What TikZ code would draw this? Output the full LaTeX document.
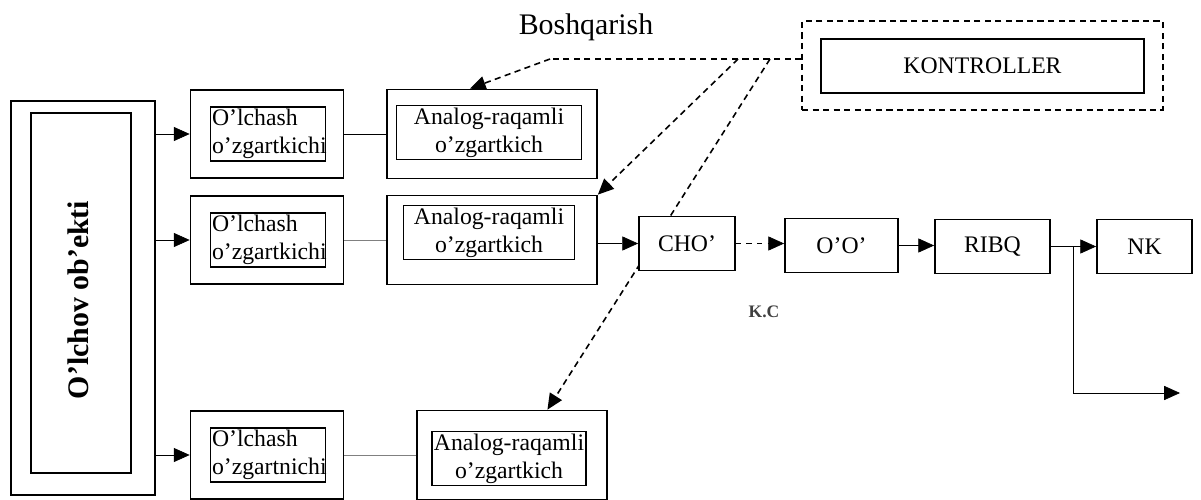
\documentclass[tikz,border=0pt]{standalone}
\usepackage{fontspec}
\setmainfont{Liberation Serif}
\usetikzlibrary{arrows.meta,positioning,backgrounds}

\tikzset{
  arr/.style={-{Triangle[length=9pt,width=8pt]}},
  ctl/.style={line width=0.9pt,dash pattern=on 3.5pt off 2.5pt},
  outbox/.style={draw,line width=1pt,inner sep=0pt},
  inbox/.style={draw,thick,align=left,inner sep=1pt},
  blk/.style={draw,line width=1pt,fill=white,minimum height=1.08cm}
}

\begin{document}
\begin{tikzpicture}[x=0.02cm,y=-0.02cm,font=\fontsize{13.5}{16}\selectfont]
  \useasboundingbox (0,0) rectangle (1201,500);
  % measured object
  \node[outbox,minimum width=2.88cm,minimum height=7.88cm] (obj) at (83,298) {};
  \node[inbox,minimum width=2cm,minimum height=7.2cm] (obji) at (81,293) {};
  \node[rotate=90,font=\bfseries\fontsize{17}{20}\selectfont] at (78,300) {O'lchov ob'ekti};
  % three measuring channels
  \foreach \r/\y/\ax/\aw/\iy/\iw/\lab/\col in {1/134/492/4.2/132.5/3.7/o'zgartkichi/black,
      2/240/492/4.2/232.5/3.42/o'zgartkichi/gray,
      3/455/512/3.8/458.5/3.06/o'zgartnichi/gray} {
    \node[outbox,minimum width=3.06cm,minimum height=1.76cm] (o\r) at (267,\y) {};
    \node[inbox,minimum width=2.3cm,minimum height=1.08cm,text width=2.24cm] (oi\r) at (268,\y) {O'lchash\\\lab};
    \node[outbox,minimum width=\aw cm,minimum height=1.78cm] (a\r) at (\ax,\y) {};
    \node[inbox,align=center,minimum width=\iw cm,minimum height=1.08cm] (ai\r) at (\ax-3,\iy) {Analog-raqamli\\o'zgartkich};
    \draw[arr] (obj.east |- o\r.west) -- (o\r.west);
    \draw[\col] (o\r.east) -- (o\r.east -| a\r.west);
  }
  % processing chain
  \node[blk,minimum width=1.92cm] (cho) at (687,243.5) {CHO'};
  \node[blk,minimum width=2.26cm] (oo) at (841.5,245.5) {O'O'};
  \node[blk,minimum width=2.3cm] (ribq) at (992.5,246.5) {RIBQ};
  \node[blk,minimum width=1.9cm] (nk) at (1144.5,246.5) {NK};
  \node[font=\bfseries\fontsize{10}{12}\selectfont,text=black!75] (kc) at (764,312) {K.C};
  \draw[arr] (a2.east |- cho.west) -- (cho.west);
  \draw[arr,dashed] (cho.east) -- (cho.east -| oo.west);
  \draw[arr] (oo.east) -- (oo.east -| ribq.west);
  \draw[arr] (ribq.east) -- (nk.west);
  \coordinate (tap) at (1073,246.5);
  \coordinate (out) at (1180,393);
  \draw[arr] (tap) |- (out);
  % controller
  \node[outbox,ctl,minimum width=7.22cm,minimum height=1.78cm] (ctlo) at (982.5,65.5) {};
  \node[inbox,minimum width=6.46cm,minimum height=1.08cm] (kontr) at (982.5,66) {KONTROLLER};
  \node[font=\fontsize{17}{20}\selectfont] (bosh) at (586,27) {Boshqarish};
  \coordinate (c0) at (550,59);
  \coordinate (c1) at (738,59);
  \coordinate (c2) at (770,59);
  \draw[ctl] (ctlo.west |- c0) -- (c0);
  \draw[ctl,arr] (c0) -- (a1.116);
  \draw[ctl,arr] (c1) -- (a2.north east);
  \begin{scope}[on background layer]
    \draw[ctl,arr] (c2) -- (a3.52);
  \end{scope}
\end{tikzpicture}
\end{document}
